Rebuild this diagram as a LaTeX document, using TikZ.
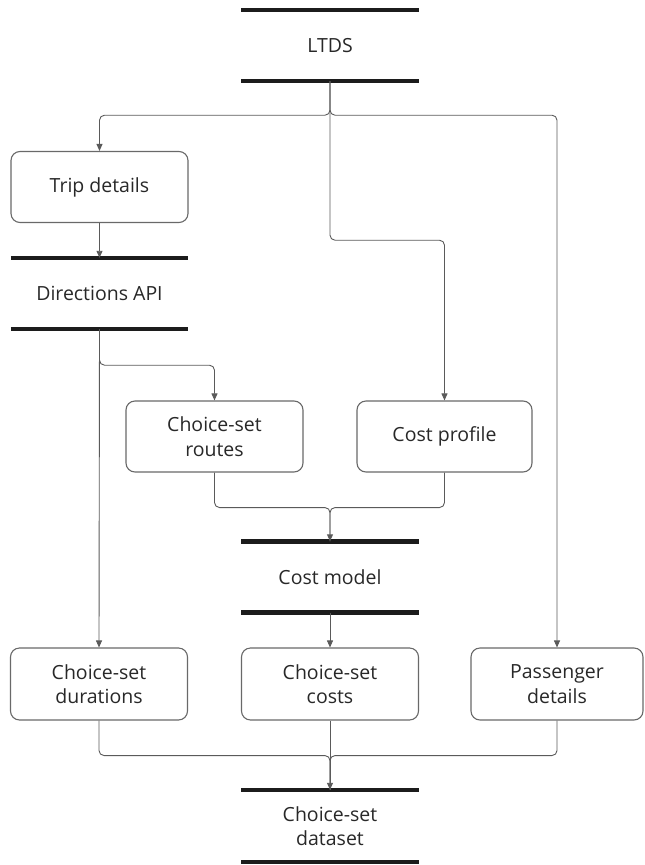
\documentclass[tikz,border=0pt]{standalone}
\usepackage{fontspec}
\setmainfont{Open Sans}
\usetikzlibrary{arrows.meta}
\definecolor{lineGrey}{RGB}{90,90,90}
\definecolor{boxGrey}{RGB}{105,105,105}
\definecolor{barBlack}{RGB}{28,28,28}
\definecolor{textGrey}{RGB}{40,40,40}

\begin{document}
\begin{tikzpicture}[
    x=1pt, y=-1pt,
    process/.style={rectangle, rounded corners=9pt, draw=boxGrey, line width=1.1pt, fill=white, minimum width=177pt, minimum height=71pt, align=center, font=\fontsize{19.5}{24.5}\selectfont, text=textGrey},
    store/.style={rectangle, minimum width=177pt, minimum height=71pt, align=center, font=\fontsize{19.5}{24.5}\selectfont, text=textGrey},
    bar/.style={draw=barBlack, line width=4.5pt},
    arrow/.style={-{Triangle[length=7pt, width=6pt]}, draw=lineGrey, line width=0.9pt, rounded corners=5pt},
    link/.style={draw=lineGrey, line width=0.9pt, rounded corners=5pt}
]
\useasboundingbox (0,0) rectangle (645,865);

% Data stores
\node[store] (ltds) at (330,45.5) {LTDS};
\node[store] (dirapi) at (99.5,293.5) {Directions API};
\node[store] (costmodel) at (330,577) {Cost model};
\node[store, minimum height=72pt] (dataset) at (330,826) {Choice-set\\dataset};

\foreach \s in {ltds, dirapi, costmodel, dataset}
    \draw[bar] (\s.north west) -- (\s.north east) (\s.south west) -- (\s.south east);

% Processes
\node[process] (trip) at (99.5,187) {Trip details};
\node[process] (routes) at (214.5,436.5) {Choice-set\\routes};
\node[process, minimum width=175pt] (profile) at (444.5,436.5) {Cost profile};
\node[process, minimum height=72pt] (durations) at (99,684) {Choice-set\\durations};
\node[process, minimum height=72pt] (costs) at (330,684) {Choice-set\\costs};
\node[process, minimum width=172pt, minimum height=72pt] (passenger) at (557,684) {Passenger\\details};

% Flows
\draw[arrow] (ltds.south) -- ++(0,34) -| (trip.north);
\draw[arrow] (ltds.south) -- ++(0,34) -| (passenger.north);
\draw[arrow] (ltds.south) -- ++(0,159) -| (profile.north);

\draw[arrow] (trip) -- (dirapi.north);

\draw[arrow] (dirapi.south) -- (durations.north);
\draw[arrow] (dirapi.south) -- ++(0,36) -| (routes.north);

\draw[arrow] (routes.south) -- ++(0,35) -| (costmodel.north);
\draw[link] (profile.south) -- ++(0,35) -| (costmodel.north);

\draw[arrow] (costmodel.south) -- (costs.north);

\draw[arrow] (durations.south) -- ++(0,35) -| (dataset.north);
\draw[link] (passenger.south) -- ++(0,35) -| (dataset.north);
\draw[link] (costs.south) -- (dataset.north);

\end{tikzpicture}
\end{document}
